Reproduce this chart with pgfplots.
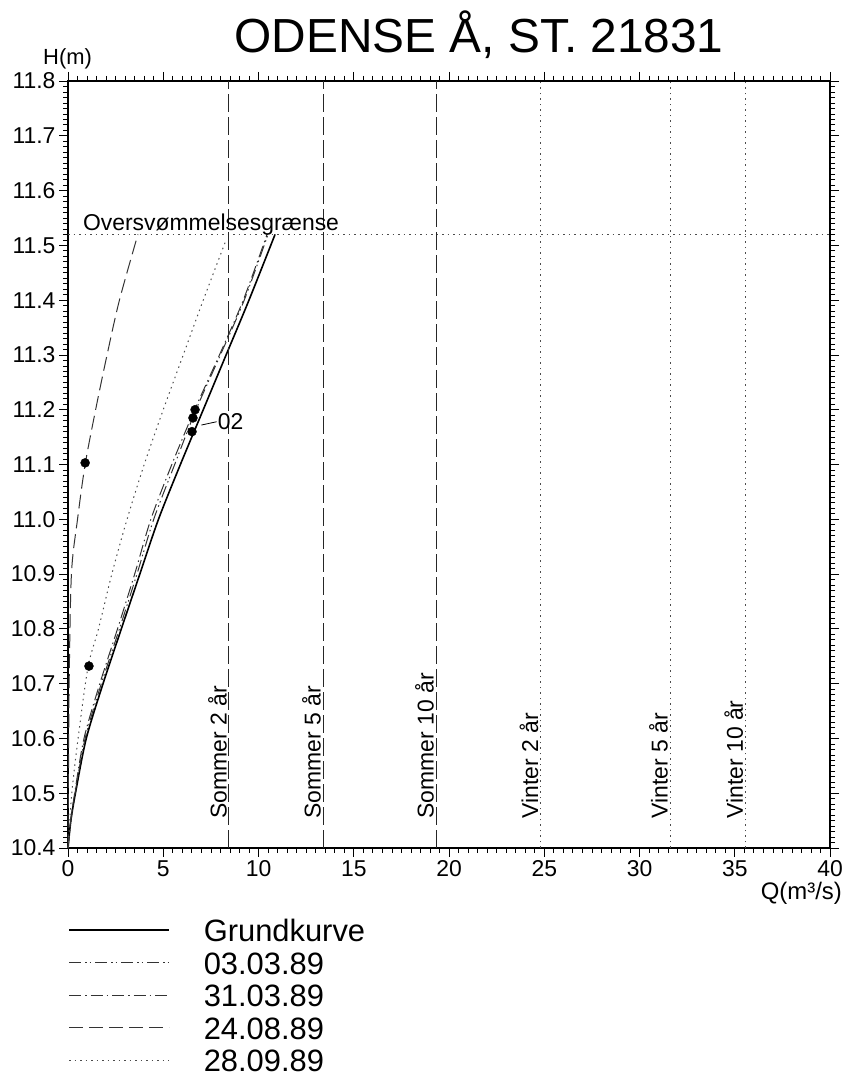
\documentclass[border=0pt]{standalone}
\usepackage{fontspec}
\setmainfont{Liberation Sans}
\usepackage{pgfplots}
\pgfplotsset{compat=1.18}

\begin{document}
\begin{tikzpicture}[x=1bp,y=1bp]
\path[use as bounding box] (0,0) rectangle (843,1078);

% title
\node[anchor=base, font=\fontsize{48}{50}\selectfont] at (479,1025) {ODENSE Å, ST. 21831};

\begin{axis}[
  at={(68bp,230bp)}, anchor=south west,
  width=762bp, height=767bp, scale only axis,
  xmin=0, xmax=40, ymin=10.4, ymax=11.8,
  xtick={0,5,10,15,20,25,30,35,40},
  ytick={10.4,10.5,10.6,10.7,10.8,10.9,11.0,11.1,11.2,11.3,11.4,11.5,11.6,11.7,11.8},
  minor x tick num=9, minor y tick num=9,
  tick align=outside, major tick length=9bp, minor tick length=5bp,
  axis line style={line width=1.1bp},
  tick style={line width=0.7bp, black},
  /pgf/number format/assume math mode=true,
  tick label style={font=\fontsize{23}{26}\selectfont},
  yticklabel style={/pgf/number format/.cd, fixed, fixed zerofill, precision=1},
  clip=false,
  legend style={at={(0,-0.0935)}, anchor=north west, draw=none, fill=none,
    font=\fontsize{31}{33}\selectfont, inner sep=0pt,
    nodes={inner sep=0pt, text height=22bp, text depth=10.5bp},
    /tikz/every odd column/.append style={column sep=34bp}},
  legend cell align=left,
  legend image code/.code={\draw[#1] (0bp,6bp) -- (100bp,6bp);},
]

% rating curves
\addplot[black, line width=1.6bp, smooth] coordinates {
  (0,10.4) (0.15,10.45) (0.39,10.5) (0.96,10.6) (1.84,10.7) (2.8,10.8)
  (3.77,10.9) (4.75,11.0) (5.9,11.1) (7.1,11.2) (8.3,11.3) (9.5,11.4) (10.87,11.52)
};
\addlegendentry{Grundkurve}

\addplot[black!80, line width=1bp, smooth,
  dash pattern=on 12bp off 4bp on 1.5bp off 3bp on 1.5bp off 4bp] coordinates {
  (0,10.4) (0.15,10.45) (0.37,10.5) (0.9,10.6) (1.75,10.7) (2.7,10.8)
  (3.62,10.9) (4.5,11.0) (5.6,11.1) (6.72,11.2) (8.0,11.3) (9.25,11.4) (10.5,11.52)
};
\addlegendentry{03.03.89}

\addplot[black!80, line width=1bp, smooth,
  dash pattern=on 12bp off 4bp on 1.5bp off 4bp] coordinates {
  (0,10.4) (0.14,10.45) (0.35,10.5) (0.84,10.6) (1.67,10.7) (2.6,10.8)
  (3.5,10.9) (4.35,11.0) (5.45,11.1) (6.65,11.2) (7.95,11.3) (9.2,11.4) (10.45,11.52)
};
\addlegendentry{31.03.89}

\addplot[black!80, line width=1bp, smooth,
  dash pattern=on 14bp off 6bp] coordinates {
  (0,10.4) (0.02,10.5) (0.06,10.7) (0.18,10.9) (0.5,11.0) (0.9,11.1)
  (1.45,11.2) (2.05,11.3) (2.7,11.4) (3.67,11.52)
};
\addlegendentry{24.08.89}

\addplot[black!70, line width=1bp, smooth,
  dash pattern=on 1.5bp off 4bp] coordinates {
  (0,10.4) (0.2,10.5) (0.53,10.6) (1.05,10.73) (1.6,10.8) (2.3,10.9)
  (3.1,11.0) (4.0,11.1) (5.0,11.2) (6.05,11.3) (7.1,11.4) (8.3,11.51)
};
\addlegendentry{28.09.89}

% measurements
\addplot[only marks, mark=*, mark size=4.5bp, black, forget plot] coordinates {
  (0.9,11.103) (1.1,10.732) (6.67,11.2) (6.56,11.185) (6.51,11.16)
};

% flood level
\addplot[black!70, line width=0.9bp, dash pattern=on 1.5bp off 4bp, forget plot]
  coordinates {(0,11.52) (40,11.52)};

% return period discharges
\addplot[black!85, line width=1bp, dash pattern=on 18bp off 5bp, forget plot]
  coordinates {(8.45,10.4) (8.45,11.8)};
\addplot[black!85, line width=1bp, dash pattern=on 18bp off 5bp, forget plot]
  coordinates {(13.39,10.4) (13.39,11.8)};
\addplot[black!85, line width=1bp, dash pattern=on 18bp off 5bp, forget plot]
  coordinates {(19.32,10.4) (19.32,11.8)};
\addplot[black!70, line width=0.9bp, dash pattern=on 1.5bp off 4bp, forget plot]
  coordinates {(24.8,10.4) (24.8,11.8)};
\addplot[black!70, line width=0.9bp, dash pattern=on 1.5bp off 4bp, forget plot]
  coordinates {(31.6,10.4) (31.6,11.8)};
\addplot[black!70, line width=0.9bp, dash pattern=on 1.5bp off 4bp, forget plot]
  coordinates {(35.55,10.4) (35.55,11.8)};

\begin{scope}[every node/.style={rotate=90, anchor=south west, inner sep=2bp,
    font=\fontsize{23}{26}\selectfont}]
  \node at (axis cs:8.45,10.45) {Sommer 2 år};
  \node at (axis cs:13.39,10.45) {Sommer 5 år};
  \node at (axis cs:19.32,10.45) {Sommer 10 år};
  \node at (axis cs:24.8,10.45) {Vinter 2 år};
  \node at (axis cs:31.6,10.45) {Vinter 5 år};
  \node at (axis cs:35.55,10.45) {Vinter 10 år};
\end{scope}

\node[anchor=base west, inner sep=0pt, font=\fontsize{23}{26}\selectfont]
  at (axis cs:0.78,11.528) {Oversvømmelsesgrænse};

\draw[line width=0.8bp] (axis cs:7.0,11.172) -- (axis cs:7.8,11.178);
\node[anchor=west, inner sep=1bp, font=\fontsize{23}{26}\selectfont]
  at (axis cs:7.8,11.178) {02};

\node[anchor=south west, inner sep=0pt, font=\fontsize{22}{24}\selectfont]
  at (rel axis cs:0,1) [xshift=-25bp, yshift=12bp] {H(m)};
\node[anchor=north east, inner sep=0pt, font=\fontsize{24}{26}\selectfont]
  at (rel axis cs:1,0) [xshift=12bp, yshift=-34bp] {Q(m³/s)};

\end{axis}
\end{tikzpicture}
\end{document}
